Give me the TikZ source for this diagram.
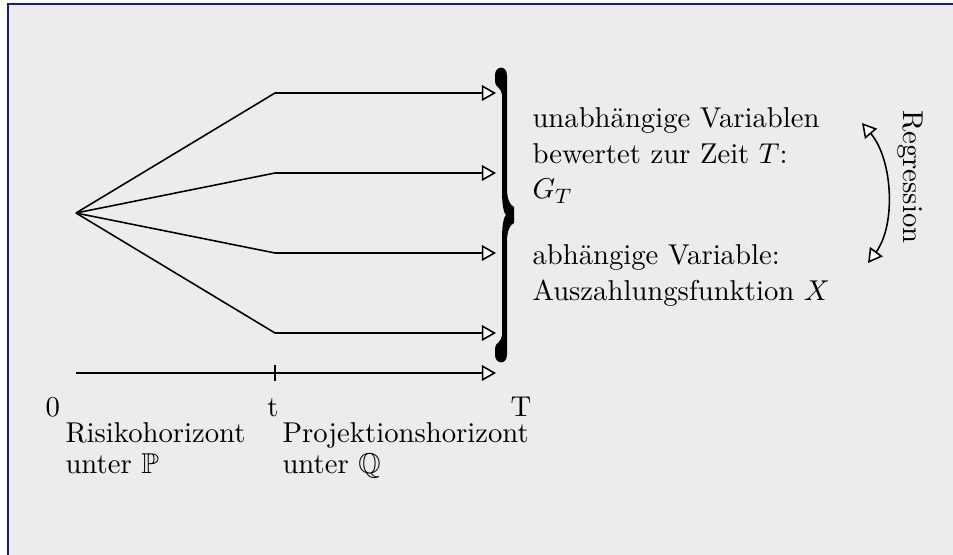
\documentclass[tikz,border=0pt]{standalone}
\usepackage{amssymb}
\usetikzlibrary{arrows.meta}
\definecolor{framebg}{RGB}{236,236,236}
\definecolor{frameblue}{RGB}{22,22,165}
\begin{document}
\begin{tikzpicture}[x=0.3817pt,y=-0.3817pt,
  every node/.style={font=\fontsize{10.95}{13.6}\selectfont, inner sep=0pt},
  branch/.style={line width=0.6pt},
  hollowtip/.style={-{Triangle[length=5.4pt,width=6pt,fill=white]}},
  bothtips/.style={{Triangle[length=5.4pt,width=6pt,fill=white]}-{Triangle[length=5.4pt,width=6pt,fill=white]}},
  label/.style={anchor=north west, align=left},
  smalllines/.style={font=\fontsize{10.95}{12}\selectfont}]
  % canvas and frame
  \useasboundingbox (0,0) rectangle (953,555);
  \fill[white] (0,0) rectangle (953,555);
  \begin{scope}
    \clip (0,0) rectangle (953,555);
    \draw[frameblue, fill=framebg, line width=1pt] (8,4) rectangle (975,575);
  \end{scope}

  % tree of scenarios
  \coordinate (O) at (76,213);
  \coordinate (b1) at (275,93);
  \coordinate (b2) at (275,173);
  \coordinate (b3) at (275,253);
  \coordinate (b4) at (275,333);
  \coordinate (e1) at (496,93);
  \coordinate (e2) at (496,173);
  \coordinate (e3) at (496,253);
  \coordinate (e4) at (496,333);
  \foreach \i in {1,...,4}
    \draw[branch, hollowtip] (O) -- (b\i) -- (e\i);

  % time axis
  \coordinate (a0) at (76,373);
  \coordinate (at) at (275,373);
  \coordinate (aT) at (496,373);
  \draw[branch, hollowtip] (a0) -- (aT);
  \draw[branch] ([yshift=-3pt]at) -- ([yshift=3pt]at);
  \node[anchor=base west] (l0) at (45,416) {0};
  \node[anchor=base] (lt) at (273,416) {t};
  \node[anchor=base west] (lT) at (510,416) {T};
  \node[label, smalllines] (risk) at (65,422) {Risikohorizont\\unter $\mathbb{P}$};
  \node[label, smalllines] (proj) at (282,422) {Projektionshorizont\\unter $\mathbb{Q}$};

  % heavy brace gathering all end values
  \fill (495,75) .. controls (495,66) and (507,64) .. (507,76)
    -- (507,188) .. controls (507,200) and (510,205) .. (514,207)
    -- (514,223) .. controls (510,225) and (507,230) .. (507,242)
    -- (507,354) .. controls (507,366) and (495,364) .. (495,355)
    -- (495,348) .. controls (495,343) and (502,342) .. (502,335)
    -- (502,240) .. controls (502,228) and (503,218) .. (506,215)
    .. controls (503,212) and (502,202) .. (502,190)
    -- (502,95) .. controls (502,88) and (495,87) .. (495,82)
    -- cycle;

  % explanations
  \node[label] (indep) at (532,107)
    {unabhängige Variablen\\bewertet zur Zeit $T$:\\$G_T$};
  \node[label] (dep) at (532,244)
    {abhängige Variable:\\Auszahlungsfunktion $X$};

  % regression arrow
  \coordinate (r1) at (862,123);
  \coordinate (r2) at (868,263);
  \draw[branch, bothtips] (r1) .. controls (893,160) and (896,225) .. (r2);
  \node[anchor=base, rotate=-90] (reg) at (903,177) {Regression};
\end{tikzpicture}
\end{document}
